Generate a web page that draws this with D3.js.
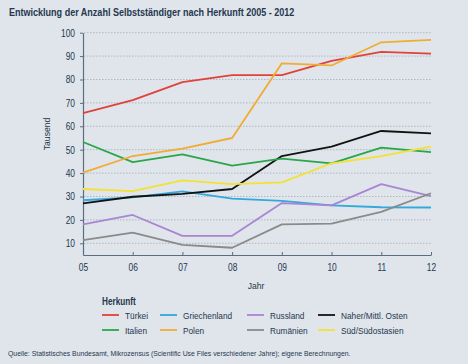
<!DOCTYPE html>
<html>
<head>
<meta charset="utf-8">
<script src="https://cdn.jsdelivr.net/npm/d3@7"></script>
<style>
  body { margin: 0; background: #dfe5ea; }
  svg { display: block; font-family: "Liberation Sans", Arial, sans-serif; }
</style>
</head>
<body>
<svg id="chart" width="468" height="364"></svg>
<script>
// years on the x axis (labels shown as two digits)
const years = ["05", "06", "07", "08", "09", "10", "11", "12"];
const yTicks = [10, 20, 30, 40, 50, 60, 70, 80, 90, 100];

// values in thousands
const tuerkei       = [65.6, 71.2, 78.9, 81.9, 81.9, 88.0, 91.8, 91.1];
const griechenland  = [28.4, 29.6, 32.2, 29.1, 28.1, 26.2, 25.4, 25.3];
const russland      = [18.1, 22.1, 13.2, 13.2, 27.2, 26.2, 35.3, 30.2];
const nahost        = [27.1, 29.9, 31.1, 33.2, 47.3, 51.3, 58.0, 57.0];
const italien       = [53.3, 44.7, 48.0, 43.2, 46.2, 44.2, 50.9, 49.0];
const polen         = [40.2, 47.3, 50.5, 55.0, 86.9, 86.0, 95.9, 96.9];
const rumaenien     = [11.4, 14.6, 9.3, 8.1, 18.1, 18.4, 23.4, 31.4];
const suedasien     = [33.2, 32.3, 36.9, 35.3, 36.0, 44.2, 47.3, 51.3];

const seriesNames  = ["Türkei", "Griechenland", "Russland", "Naher/Mittl. Osten",
                      "Italien", "Polen", "Rumänien", "Süd/Südostasien"];
const seriesValues = [tuerkei, griechenland, russland, nahost,
                      italien, polen, rumaenien, suedasien];
const seriesColors = ["#e2403a", "#32a8dc", "#a985d4", "#121212",
                      "#2aa64a", "#f1ac34", "#8a8a8a", "#f4e232"];

const textColor = "#26374f";
const svg = d3.select("#chart");

// the original uses a condensed face; squeeze the glyphs horizontally
function squeeze(sel, k) {
    sel.each(function() {
        const w = this.getComputedTextLength();
        this.setAttribute("textLength", w * k);
        this.setAttribute("lengthAdjust", "spacingAndGlyphs");
    });
}

const x = d3.scalePoint().domain(years).range([83, 431]);
const y = d3.scaleLinear().domain([5, 100]).range([255, 32.7]);

// title
svg.append("text")
    .attr("x", 9).attr("y", 16)
    .attr("font-size", 11).attr("font-weight", "bold")
    .attr("fill", textColor)
    .text("Entwicklung der Anzahl Selbstständiger nach Herkunft 2005 - 2012")
    .call(squeeze, 0.82);

// dotted grid lines
svg.append("g")
    .selectAll("line")
    .data(yTicks)
    .enter()
    .append("line")
    .attr("x1", 84).attr("x2", 432)
    .attr("y1", d => y(d)).attr("y2", d => y(d))
    .attr("stroke", "#9aa6b2")
    .attr("stroke-width", 0.7)
    .attr("stroke-dasharray", "1.5,1.5");

// y axis
const yAxis = svg.append("g")
    .attr("transform", "translate(83,0)")
    .call(d3.axisLeft(y).tickValues(yTicks).tickSize(3).tickSizeOuter(0));
yAxis.select(".domain").attr("stroke", "#5d6d80").attr("stroke-width", 1.2);
yAxis.selectAll(".tick line").attr("stroke", "#5d6d80");
yAxis.selectAll(".tick text").attr("fill", textColor).attr("font-size", 10.5)
    .attr("font-family", "inherit").attr("x", -8)
    .call(squeeze, 0.8);

// x axis
const xAxis = svg.append("g")
    .attr("transform", "translate(0,255)")
    .call(d3.axisBottom(x).tickSize(3).tickSizeOuter(0));
xAxis.select(".domain").attr("stroke", "#5d6d80").attr("stroke-width", 1.2);
xAxis.selectAll(".tick line").attr("stroke", "#5d6d80").attr("y2", -3);
xAxis.selectAll(".tick text").attr("fill", textColor).attr("font-size", 10.5)
    .attr("font-family", "inherit").attr("y", 9)
    .call(squeeze, 0.8);

// axis titles
svg.append("text")
    .attr("transform", "translate(50,134) rotate(-90)")
    .attr("text-anchor", "middle")
    .attr("font-size", 9.5).attr("fill", textColor)
    .text("Tausend")
    .call(squeeze, 0.9);

svg.append("text")
    .attr("x", 256).attr("y", 289)
    .attr("text-anchor", "middle")
    .attr("font-size", 9.5).attr("fill", textColor)
    .text("Jahr")
    .call(squeeze, 0.9);

// lines
const line = d3.line()
    .x((d, i) => x(years[i]))
    .y(d => y(d));

svg.append("g")
    .selectAll("path")
    .data(seriesValues)
    .enter()
    .append("path")
    .attr("d", d => line(d))
    .attr("fill", "none")
    .attr("stroke", (d, i) => seriesColors[i])
    .attr("stroke-width", 1.8)
    .attr("stroke-linejoin", "round");

// legend
svg.append("text")
    .attr("x", 102).attr("y", 305)
    .attr("font-size", 10).attr("font-weight", "bold")
    .attr("fill", textColor)
    .text("Herkunft")
    .call(squeeze, 0.82);

const colX = [102, 160, 247, 318];
const rowY = [315, 330];

const legend = svg.append("g")
    .selectAll("g")
    .data(seriesNames)
    .enter()
    .append("g")
    .attr("transform", (d, i) => "translate(" + colX[i % 4] + "," + rowY[Math.floor(i / 4)] + ")");

legend.append("line")
    .attr("x1", 0).attr("x2", 17)
    .attr("stroke", (d, i) => seriesColors[i])
    .attr("stroke-width", 1.8);

legend.append("text")
    .attr("x", 23).attr("y", 3.5)
    .attr("font-size", 9.5).attr("fill", textColor)
    .text(d => d)
    .call(squeeze, 0.87);

// source
svg.append("text")
    .attr("x", 8).attr("y", 356)
    .attr("font-size", 7.8).attr("fill", textColor)
    .text("Quelle: Statistisches Bundesamt, Mikrozensus (Scientific Use Files verschiedener Jahre); eigene Berechnungen.")
    .call(squeeze, 0.88);
</script>
</body>
</html>
